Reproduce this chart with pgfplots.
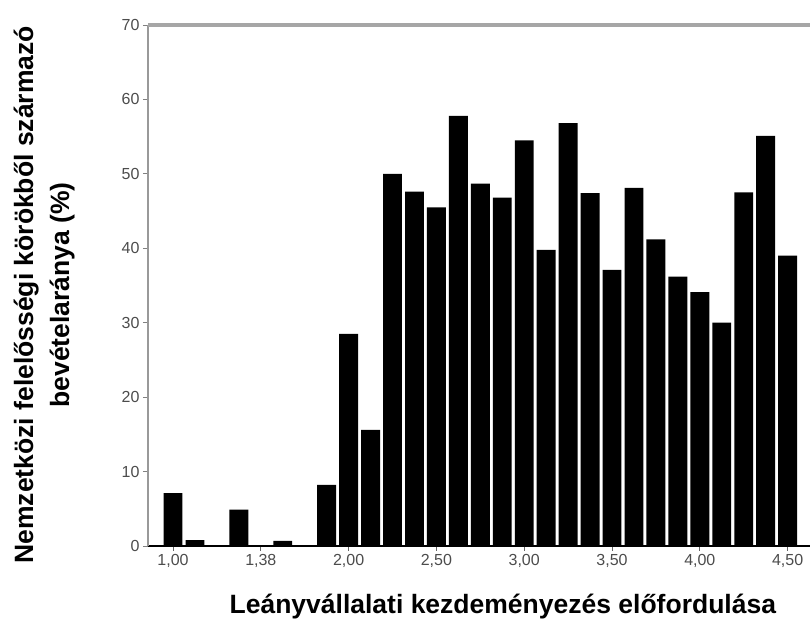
\documentclass[border=0pt]{standalone}
\usepackage{fontspec}
\setmainfont{Liberation Sans}
\usepackage{pgfplots}
\pgfplotsset{compat=1.18}

\begin{document}
\begin{tikzpicture}
\begin{axis}[
  name=ax,
  width=662pt, height=521pt, scale only axis,
  xmin=-1.14, xmax=29.02,
  ymin=0, ymax=70,
  clip=false,
  axis x line*=bottom,
  axis y line*=left,
  x axis line style={black, line width=1.5pt},
  y axis line style={black!40, line width=2.5pt},
  xtick={0,4,...,28},
  xticklabels={{1,00},{1,38},{2,00},{2,50},{3,00},{3,50},{4,00},{4,50}},
  ytick={0,10,...,70},
  tick align=outside,
  major tick length=5pt,
  x tick style={black!60, line width=0.8pt},
  y tick style={black!50, line width=0.8pt},
  /pgf/number format/assume math mode=true,
  ticklabel style={font=\fontsize{16}{16}\selectfont, text=black!70},
  ylabel={Nemzetközi felelősségi körökből származó\\bevételaránya (\%)},
  ylabel style={font=\bfseries\fontsize{26.5}{36}\selectfont, align=center,
    at={(axis description cs:-0.157,0.482)}, anchor=center},
  xlabel={Leányvállalati kezdeményezés előfordulása},
  xlabel style={font=\bfseries\fontsize{26.5}{26.5}\selectfont,
    at={(axis description cs:0.536,-0.117)}, anchor=center},
]
\addplot[ybar, bar width=0.86, fill=black, draw=none] coordinates {
  (0,7.1) (1,0.8) (3,4.9) (5,0.7)
  (7,8.2) (8,28.5) (9,15.6) (10,50.0) (11,47.6) (12,45.5)
  (13,57.8) (14,48.7) (15,46.8) (16,54.5) (17,39.8) (18,56.8)
  (19,47.4) (20,37.1) (21,48.1) (22,41.2) (23,36.2) (24,34.1)
  (25,30.0) (26,47.5) (27,55.1) (28,39.0)
};
\draw[black!35, line width=3.5pt] (rel axis cs:0,1) -- (rel axis cs:1,1);
\end{axis}
\pgfresetboundingbox
\path ([shift={(-148pt,-78pt)}]ax.south west) rectangle ([shift={(0pt,25pt)}]ax.north east);
\end{tikzpicture}
\end{document}
